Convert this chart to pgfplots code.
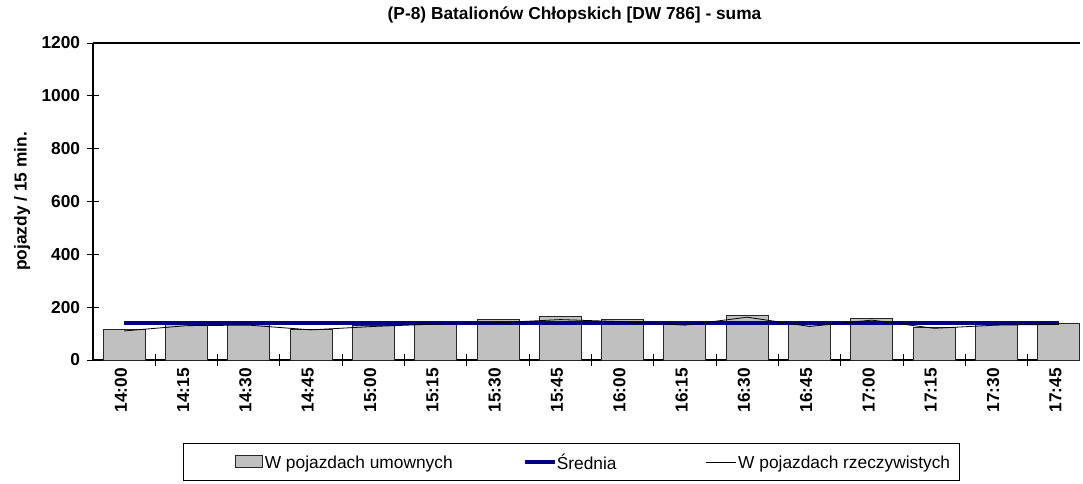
\documentclass[border=0pt]{standalone}
\usepackage{fontspec}
\setmainfont{Liberation Sans}
\usepackage{pgfplots}
\pgfplotsset{compat=1.18}
\definecolor{bargray}{HTML}{C0C0C0}
\definecolor{navy}{HTML}{000080}
\newcommand{\tfont}{\fontsize{13}{15}\selectfont}
\begin{document}
\begin{tikzpicture}
\useasboundingbox (0,0) rectangle (812.25pt,362.25pt);
\begin{axis}[
  at={(69.75pt,92.25pt)}, anchor=south west,
  scale only axis, width=740.25pt, height=237.75pt,
  xmin=-0.5, xmax=15.34, ymin=0, ymax=1200,
  axis x line*=bottom, axis y line*=left,
  axis line style={black, line width=0.8pt},
  tick align=center, major tick length=9pt,
  tick style={black, line width=0.75pt},
  ytick={0,200,...,1200},
  xtick={0.5,1.5,...,14.5}, xticklabels={},
  extra x ticks={0,...,15},
  extra x tick labels={14:00,14:15,14:30,14:45,15:00,15:15,15:30,15:45,16:00,16:15,16:30,16:45,17:00,17:15,17:30,17:45},
  extra x tick style={tick style={draw=none}},
  extra y ticks={1200}, extra y tick labels={},
  extra y tick style={grid=major, grid style={black, line width=1pt}},
  /pgf/number format/assume math mode=true,
  /pgf/number format/1000 sep={},
  ticklabel style={font=\tfont\bfseries},
  xticklabel style={rotate=90, anchor=east, inner sep=0pt, yshift=2.5pt, xshift=-1.5pt},
  yticklabel style={anchor=east, inner sep=0pt, xshift=-5pt},
  ylabel={pojazdy / 15 min.},
  every axis y label/.style={at={(axis description cs:-0.0719,0.5)}, rotate=90, anchor=center, font=\tfont\bfseries},
  legend columns=3,
  legend cell align=left,
  legend style={at={(axis description cs:0,0)}, anchor=north west, xshift=67.5pt, yshift=-62.25pt,
    draw=black, line width=0.75pt, inner xsep=0pt, inner ysep=8pt,
    nodes={inner sep=0pt, text depth=0pt}, font=\tfont},
]
\addplot[ybar, bar width=0.674, fill=bargray, draw=black!85, line width=0.75pt,
  legend image code/.code={\path[draw=none,fill=none] (0pt,0pt) -- (61pt,0pt); \draw[fill=bargray, draw=black!85, line width=0.75pt] (39pt,-4.5pt) rectangle (59.25pt,4.5pt);}]
  coordinates {(0,116) (1,136) (2,136) (3,115) (4,132) (5,139) (6,154) (7,165) (8,154) (9,136) (10,169) (11,134) (12,158) (13,124) (14,136) (15,139)};
\addlegendentry{\makebox[193.5pt][l]{W pojazdach umownych}}
\addplot[navy, line width=3pt, mark=none,
  legend image code/.code={\path[draw=none,fill=none] (0pt,0pt) -- (24pt,0pt); \draw[navy, line width=3pt] (0pt,0pt) -- (22.5pt,0pt);}]
  coordinates {(0,140) (1,140) (2,140) (3,140) (4,140) (5,140) (6,140) (7,140) (8,140) (9,140) (10,140) (11,140) (12,140) (13,140) (14,140) (15,140)};
\addlegendentry{\makebox[111.75pt][l]{Średnia}}
\addplot[black, line width=0.6pt, mark=none,
  legend image code/.code={\path[draw=none,fill=none] (0pt,0pt) -- (24pt,0pt); \draw[black, line width=0.6pt] (0pt,0pt) -- (22.5pt,0pt);}]
  coordinates {(0,110) (1,130) (2,132) (3,114) (4,127) (5,136) (6,141) (7,153) (8,145) (9,132) (10,162) (11,127) (12,151) (13,120) (14,132) (15,135)};
\addlegendentry{\makebox[166pt][l]{W pojazdach rzeczywistych}}
\end{axis}
\node[font=\tfont\bfseries] at (430.9pt,351pt) {(P-8) Batalionów Chłopskich [DW 786] - suma};
\end{tikzpicture}
\end{document}
